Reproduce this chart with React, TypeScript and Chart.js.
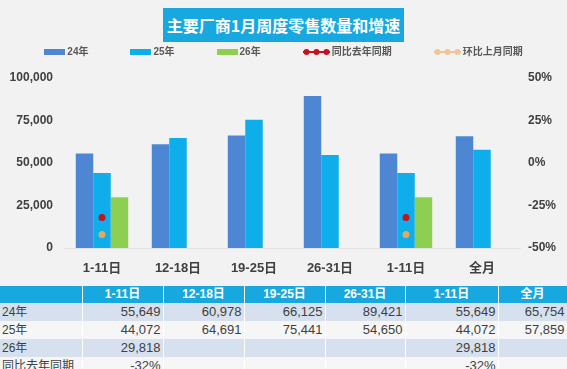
import React, { useEffect, useRef } from 'react';
import { Chart, registerables } from 'chart.js';

Chart.register(...registerables);

const titleText = '主要厂商1月周度零售数量和增速';
const categories = ['1-11日', '12-18日', '19-25日', '26-31日', '1-11日', '全月'];
const sales24 = [55649, 60978, 66125, 89421, 55649, 65754];
const sales25 = [44072, 64691, 75441, 54650, 44072, 57859];
const sales26: (number | null)[] = [29818, null, null, null, 29818, null];
const yoyPct: (number | null)[] = [-32, null, null, null, -32, null];
const momPct: (number | null)[] = [-42, null, null, null, -42, null];
const seriesNames = ['24年', '25年', '26年', '同比去年同期', '环比上月同期'];
const leftAxis = { min: 0, max: 100000, step: 25000 };
const rightAxis = { min: -50, max: 50, step: 25 };

const colors = ['#4d86d2', '#0eaeea', '#8dcf50', '#c3131f', '#e0aa5e'];
const legendColors = ['#4d86d2', '#0eaeea', '#8dcf50', '#c3131f', '#f3c495'];
const FONT = "'Liberation Sans', 'Noto Sans CJK SC', sans-serif";

const colWidths = [82, 81, 81, 81, 80, 93, 69];

const fmtNum = (v: number | null) => (v == null ? '' : v.toLocaleString('en-US'));
const fmtPct = (v: number | null) => (v == null ? '' : `${v}%`);

const tableRows: { label: string; cells: string[]; bg: string }[] = [
  { label: seriesNames[0], cells: sales24.map(fmtNum), bg: '#d6e0ee' },
  { label: seriesNames[1], cells: sales25.map(fmtNum), bg: '#f6f6f6' },
  { label: seriesNames[2], cells: sales26.map(fmtNum), bg: '#d6e0ee' },
  { label: seriesNames[3], cells: yoyPct.map(fmtPct), bg: '#f6f6f6' },
];

function rectIcon(color: string) {
  const c = document.createElement('canvas');
  c.width = 21;
  c.height = 6;
  const ctx = c.getContext('2d')!;
  ctx.fillStyle = color;
  ctx.fillRect(0, 0, 21, 6);
  return c;
}

function lineIcon(color: string) {
  const c = document.createElement('canvas');
  c.width = 27;
  c.height = 8;
  const ctx = c.getContext('2d')!;
  ctx.strokeStyle = color;
  ctx.lineWidth = 2;
  ctx.beginPath();
  ctx.moveTo(0, 4);
  ctx.lineTo(27, 4);
  ctx.stroke();
  ctx.fillStyle = color;
  [3.5, 13.5, 23.5].forEach((x) => {
    ctx.beginPath();
    ctx.arc(x, 4, 3, 0, Math.PI * 2);
    ctx.fill();
  });
  return c;
}

function ChartCanvas() {
  const ref = useRef<HTMLCanvasElement>(null);
  useEffect(() => {
    if (!ref.current) return;
    const icons = [
      rectIcon(legendColors[0]),
      rectIcon(legendColors[1]),
      rectIcon(legendColors[2]),
      lineIcon(legendColors[3]),
      lineIcon(legendColors[4]),
    ];
    const legendPlugin = {
      id: 'customLegend',
      afterDraw(chart: any) {
        const ctx = chart.ctx as CanvasRenderingContext2D;
        ctx.save();
        ctx.font = `bold 10px ${FONT}`;
        ctx.textBaseline = 'middle';
        ctx.textAlign = 'left';
        const gapIcon = 2;
        const gapItem = 42;
        const items = seriesNames.map((name, i) => ({
          name,
          icon: icons[i],
          tw: ctx.measureText(name).width,
        }));
        const total =
          items.reduce((s, it) => s + it.icon.width + gapIcon + it.tw, 0) + gapItem * (items.length - 1);
        let x = chart.width / 2 - total / 2;
        const y = 52;
        items.forEach((it) => {
          ctx.drawImage(it.icon, Math.round(x), Math.round(y - it.icon.height / 2));
          x += it.icon.width + gapIcon;
          ctx.fillStyle = '#595959';
          ctx.fillText(it.name, x, y);
          x += it.tw + gapItem;
        });
        ctx.restore();
      },
    };
    const chart = new Chart(ref.current, {
      type: 'bar',
      data: {
        labels: categories,
        datasets: [
          { type: 'bar', label: seriesNames[0], data: sales24, backgroundColor: colors[0], yAxisID: 'y', order: 2 },
          { type: 'bar', label: seriesNames[1], data: sales25, backgroundColor: colors[1], yAxisID: 'y', order: 2 },
          { type: 'bar', label: seriesNames[2], data: sales26, backgroundColor: colors[2], yAxisID: 'y', order: 2 },
          {
            type: 'line', label: seriesNames[3], data: yoyPct, yAxisID: 'y1', order: 0,
            borderColor: colors[3], backgroundColor: colors[3], pointBackgroundColor: colors[3],
            pointRadius: 3.5, pointBorderWidth: 0, borderWidth: 2, spanGaps: false,
          },
          {
            type: 'line', label: seriesNames[4], data: momPct, yAxisID: 'y1', order: 0,
            borderColor: colors[4], backgroundColor: colors[4], pointBackgroundColor: colors[4],
            pointRadius: 3.5, pointBorderWidth: 0, borderWidth: 2, spanGaps: false,
          },
        ],
      } as any,
      options: {
        animation: false,
        responsive: false,
        devicePixelRatio: 1,
        layout: { padding: { top: 78, left: 0, right: 0, bottom: 0 } },
        datasets: { bar: { categoryPercentage: 0.69, barPercentage: 1 } } as any,
        plugins: {
          title: { display: false },
          tooltip: { enabled: false },
          legend: { display: false },
        },
        scales: {
          x: {
            grid: { display: false, drawTicks: false },
            border: { display: true, color: '#e2e2e2' },
            ticks: { color: '#404040', padding: 13, font: { family: FONT, size: 13, weight: 'bold' } },
            afterFit: (s: any) => {
              s.height = 33;
            },
          },
          y: {
            position: 'left',
            min: leftAxis.min,
            max: leftAxis.max,
            grid: { display: false, drawTicks: false },
            border: { display: false },
            ticks: {
              stepSize: leftAxis.step,
              padding: 11,
              color: '#404040',
              font: { family: FONT, size: 12, weight: 'bold' },
              callback: (v: any) => Number(v).toLocaleString('en-US'),
            },
            afterFit: (s: any) => {
              s.width = 64;
            },
          },
          y1: {
            position: 'right',
            min: rightAxis.min,
            max: rightAxis.max,
            grid: { display: false, drawTicks: false },
            border: { display: false },
            ticks: {
              stepSize: rightAxis.step,
              padding: 8,
              color: '#404040',
              font: { family: FONT, size: 12, weight: 'bold' },
              callback: (v: any) => `${v}%`,
            },
            afterFit: (s: any) => {
              s.width = 47;
            },
          },
        },
      } as any,
      plugins: [legendPlugin as any],
    });
    return () => chart.destroy();
  }, []);
  return (
    <canvas
      ref={ref}
      width={567}
      height={281}
      style={{ position: 'absolute', left: 0, top: 0, width: 567, height: 281, display: 'block' }}
    />
  );
}

export default function App() {
  const cellBase: React.CSSProperties = {
    height: 18,
    lineHeight: '18px',
    padding: '0 2px',
    boxSizing: 'border-box',
    whiteSpace: 'nowrap',
    overflow: 'hidden',
  };
  return (
    <div
      style={{
        position: 'fixed',
        left: 0,
        top: 0,
        width: 567,
        height: 369,
        overflow: 'hidden',
        background: '#f2f2f2',
        fontFamily: FONT,
      }}
    >
      <ChartCanvas />
      <div
        style={{
          position: 'absolute',
          left: 163,
          top: 8,
          width: 241,
          height: 34,
          background: '#17a8e0',
          color: '#ffffff',
          fontWeight: 700,
          fontSize: 16,
          lineHeight: '34px',
          textAlign: 'center',
          fontFamily: "'Noto Sans CJK SC', sans-serif",
        }}
      >
        {titleText}
      </div>
      <table
        style={{
          position: 'absolute',
          left: 0,
          top: 286,
          width: 567,
          borderCollapse: 'collapse',
          tableLayout: 'fixed',
          fontSize: 13,
          color: '#404040',
        }}
      >
        <colgroup>
          {colWidths.map((w, i) => (
            <col key={i} style={{ width: w }} />
          ))}
        </colgroup>
        <tbody>
          <tr style={{ background: '#17a8e0' }}>
            <td style={{ ...cellBase, height: 17, lineHeight: '17px' }} />
            {categories.map((c, i) => (
              <td
                key={i}
                style={{
                  ...cellBase,
                  height: 17,
                  lineHeight: '17px',
                  textAlign: 'center',
                  color: '#ffffff',
                  fontWeight: 700,
                  fontSize: 12,
                  borderLeft: '1px solid #ffffff',
                }}
              >
                {c}
              </td>
            ))}
            <td style={{ ...cellBase, height: 17, borderLeft: '1px solid #ffffff' }} />
          </tr>
          {tableRows.map((r, ri) => (
            <tr key={ri} style={{ background: r.bg }}>
              <td style={{ ...cellBase, textAlign: 'left', fontSize: 12 }}>{r.label}</td>
              {r.cells.map((v, i) => (
                <td key={i} style={{ ...cellBase, textAlign: 'right', borderLeft: '1px solid #ffffff' }}>
                  {v}
                </td>
              ))}
              <td style={{ ...cellBase, borderLeft: '1px solid #ffffff' }} />
            </tr>
          ))}
        </tbody>
      </table>
    </div>
  );
}
